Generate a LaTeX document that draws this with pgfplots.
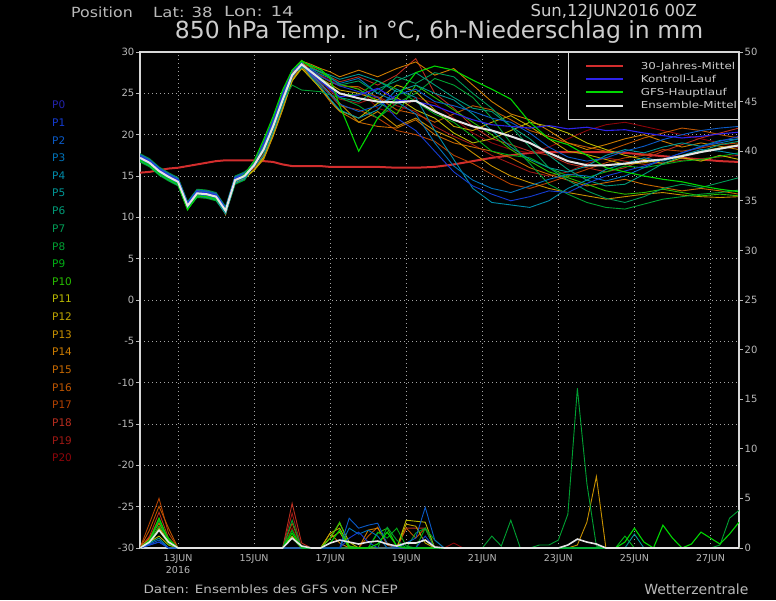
\documentclass[border=0pt]{standalone}
\usepackage{fontspec}
\setmainfont{DejaVu Sans}
\usepackage{graphicx}
\usepackage{pgfplots}
\usepackage{pgfplotstable}
\pgfplotsset{compat=1.18}

\definecolor{txt}{RGB}{205,205,205}
\definecolor{lbl}{RGB}{185,185,185}
\definecolor{frame}{RGB}{215,215,215}
\definecolor{gridc}{RGB}{165,165,165}
\definecolor{clim}{RGB}{210,45,45}
\definecolor{ctrl}{RGB}{45,35,235}
\definecolor{gfs}{RGB}{0,215,0}
\definecolor{ensm}{RGB}{228,228,228}
\definecolor{p0}{RGB}{35,35,175}
\definecolor{p1}{RGB}{20,60,210}
\definecolor{p2}{RGB}{10,90,200}
\definecolor{p3}{RGB}{0,115,185}
\definecolor{p4}{RGB}{0,140,170}
\definecolor{p5}{RGB}{0,150,150}
\definecolor{p6}{RGB}{0,155,120}
\definecolor{p7}{RGB}{0,155,85}
\definecolor{p8}{RGB}{0,160,50}
\definecolor{p9}{RGB}{0,175,20}
\definecolor{p10}{RGB}{40,190,0}
\definecolor{p11}{RGB}{185,185,0}
\definecolor{p12}{RGB}{190,165,0}
\definecolor{p13}{RGB}{200,145,0}
\definecolor{p14}{RGB}{205,125,0}
\definecolor{p15}{RGB}{200,105,0}
\definecolor{p16}{RGB}{190,85,0}
\definecolor{p17}{RGB}{180,65,0}
\definecolor{p18}{RGB}{185,45,30}
\definecolor{p19}{RGB}{160,25,20}
\definecolor{p20}{RGB}{140,5,10}

\newcommand{\wx}[2][1.25]{\scalebox{#1}[1]{#2}}

% 850 hPa temperature, hours after 12JUN2016 00Z
\pgfplotstableread{
h clim mean p0 gfs p1 p2 p3 p4 p5 p6 p7 p8 p9 p10 p11 p12 p13 p14 p15 p16 p17 p18 p19 p20
0 15.4 17.2 17.4 16.9 17.2 17.6 17.0 17.5 16.8 17.3 17.1 17.7 16.7 17.4 16.9 17.5 17.2 17.6 17.0 17.3 16.8 17.5 17.1 17.4
6 15.5 16.6 16.8 16.3 16.6 17.0 16.4 16.9 16.2 16.7 16.5 17.1 16.1 16.8 16.3 16.9 16.6 17.0 16.4 16.7 16.2 16.9 16.5 16.8
12 15.7 15.6 15.8 15.3 15.6 16.0 15.4 15.9 15.2 15.7 15.5 16.1 15.1 15.8 15.3 15.9 15.6 16.0 15.4 15.7 15.2 15.9 15.5 15.8
18 15.9 14.9 15.1 14.6 14.9 15.3 14.7 15.2 14.5 15.0 14.8 15.4 14.4 15.1 14.6 15.2 14.9 15.3 14.7 15.0 14.5 15.2 14.8 15.1
24 16.0 14.3 14.5 14.0 14.3 14.7 14.1 14.6 13.9 14.4 14.2 14.8 13.8 14.5 14.0 14.6 14.3 14.7 14.1 14.4 13.9 14.6 14.2 14.5
30 16.2 11.4 11.6 10.9 11.4 11.8 11.2 11.7 11.0 11.5 11.3 11.9 11.0 11.2 11.1 11.7 11.4 11.8 11.2 11.5 11.0 11.7 11.3 11.6
36 16.4 12.9 13.1 12.6 12.9 13.3 12.7 13.2 12.5 13.0 12.8 13.4 12.4 13.1 12.6 13.2 12.9 13.3 12.7 13.0 12.5 13.2 12.8 13.1
42 16.6 12.8 13.0 12.5 12.8 13.2 12.6 13.1 12.4 12.9 12.7 13.3 12.3 13.0 12.5 13.1 12.8 13.2 12.6 12.9 12.4 13.1 12.7 13.0
48 16.8 12.5 12.7 12.2 12.5 12.9 12.3 12.8 12.1 12.6 12.4 13.0 12.0 12.7 12.2 12.8 12.5 12.9 12.3 12.6 12.1 12.8 12.4 12.7
54 16.9 10.8 11.0 11.0 10.8 11.2 10.6 11.1 10.4 10.9 10.7 11.3 10.5 11.0 10.5 11.1 10.8 10.3 10.6 10.9 10.4 11.1 10.7 11.0
60 16.9 14.5 14.7 14.4 14.5 14.9 14.3 14.8 14.1 14.6 14.4 15.0 14.0 14.7 14.2 14.8 14.5 14.9 14.3 14.6 14.1 14.8 14.4 14.7
66 16.9 15.0 15.2 15.2 15.0 15.4 14.8 15.3 14.6 15.1 14.9 15.5 14.5 15.2 14.7 15.3 15.0 15.4 14.8 15.1 14.6 15.3 14.9 15.2
72 16.9 16.3 16.8 16.8 16.3 16.5 16.3 16.1 16.3 16.3 16.7 16.4 16.4 16.8 15.7 16.7 15.7 16.5 15.7 16.6 15.8 15.9 16.6 16.2
78 16.8 18.2 18.9 19.4 18.2 18.1 18.3 17.5 18.6 18.0 19.1 17.9 18.9 19.0 17.3 18.7 17.0 18.2 17.1 18.7 17.6 17.1 18.8 17.7
84 16.7 21.0 21.7 22.2 21.0 20.9 21.1 20.3 21.4 20.8 21.9 20.7 21.7 21.8 20.1 21.5 19.8 21.0 19.9 21.5 20.4 19.9 21.6 20.5
90 16.4 24.2 24.9 25.4 24.2 24.1 24.3 23.5 24.6 24.0 25.1 23.9 24.9 25.0 23.3 24.7 23.0 24.2 23.1 24.7 23.6 23.1 24.8 23.7
96 16.2 27.2 27.7 27.8 27.2 27.3 27.2 26.9 27.3 27.1 27.7 26.0 27.4 27.8 26.5 27.6 26.5 27.4 26.5 27.5 26.7 26.7 27.5 27.0
102 16.2 28.5 28.6 28.9 28.4 28.7 28.3 28.6 28.1 28.5 28.8 25.4 28.2 29.0 28.0 28.8 28.2 28.9 28.3 28.5 28.1 28.6 28.4 28.7
108 16.2 27.6 27.4 28.3 27.8 27.2 27.9 27.0 28.0 27.5 28.4 25.3 27.7 28.1 26.8 27.6 27.3 28.5 26.9 27.7 27.1 28.2 27.5 27.9
114 16.2 26.7 26.4 27.9 27.0 26.1 27.3 25.8 27.6 26.5 27.8 25.2 26.9 27.5 25.6 26.8 26.2 28.0 25.5 27.1 26.0 27.6 26.6 27.2
120 16.1 25.8 25.5 26.8 26.5 24.9 26.8 24.3 27.2 25.6 27.0 24.8 25.8 26.9 24.2 26.1 25.0 27.6 24.0 26.4 24.8 27.0 25.3 26.6
126 16.1 25.0 24.6 23.5 25.9 23.7 26.2 23.0 26.7 24.5 26.0 24.5 24.9 26.1 22.9 25.4 23.8 27.0 22.8 25.9 23.5 26.4 24.3 26.0
138 16.1 24.4 24.8 18.0 25.2 22.8 26.8 22.0 27.3 24.0 26.5 23.5 24.8 25.5 22.0 25.0 21.5 27.8 21.5 25.8 23.0 27.0 23.8 25.6
150 16.1 24.0 25.6 22.0 24.5 23.5 25.0 23.0 26.5 25.5 25.0 22.0 26.5 24.0 23.8 24.2 22.8 27.0 21.0 24.5 22.0 26.0 24.6 23.2
162 16.0 23.9 24.2 24.5 22.0 24.8 24.0 25.5 25.2 26.5 27.0 23.8 25.5 22.5 24.5 26.0 21.0 28.0 20.8 23.0 20.5 27.2 23.5 22.5
174 16.0 24.1 24.0 27.5 20.5 25.5 22.5 24.5 26.0 27.5 26.2 25.0 24.0 26.0 23.0 25.2 22.0 28.8 21.8 22.5 20.0 29.2 22.8 24.5
186 16.1 22.8 23.5 28.3 18.0 24.0 19.0 20.5 25.0 26.0 27.5 26.8 22.5 24.5 22.0 23.0 20.5 27.2 20.0 21.5 19.2 25.0 21.0 23.8
198 16.4 21.8 22.6 27.8 15.5 23.5 16.2 17.0 24.2 24.5 27.0 26.0 21.5 23.0 20.2 21.0 19.5 28.0 19.0 22.5 17.5 23.2 19.8 22.0
210 16.8 21.0 21.8 26.6 13.8 22.8 14.5 13.5 22.5 23.2 25.0 24.5 19.8 21.5 19.0 20.5 17.8 26.0 18.5 23.5 16.5 21.0 18.8 20.2
222 17.2 20.5 21.2 25.5 12.8 22.0 13.5 11.8 20.5 22.8 23.2 22.0 18.0 20.0 19.5 21.5 16.2 24.0 18.0 23.0 15.2 19.5 17.5 19.0
234 17.5 19.8 21.0 24.3 12.0 21.5 13.0 11.5 18.5 21.0 21.0 19.0 17.5 18.2 20.5 22.3 15.0 22.5 17.2 21.8 14.0 18.8 16.5 18.2
246 17.8 19.0 20.8 21.5 12.5 20.2 13.8 11.2 17.0 19.5 18.5 16.5 17.2 16.8 21.5 21.0 14.2 21.8 16.0 20.5 13.5 18.0 15.5 17.8
258 17.9 17.8 21.1 19.5 13.2 18.5 14.6 12.0 16.0 17.5 16.0 14.0 16.0 15.5 21.0 19.5 13.5 20.5 15.2 19.8 14.2 17.5 15.0 18.5
270 17.9 16.8 20.7 18.8 13.0 17.3 15.2 13.5 15.5 15.8 14.5 12.8 15.0 14.8 20.2 18.0 13.0 19.0 14.5 19.0 15.0 16.5 15.5 19.5
282 17.9 16.3 20.9 17.5 14.1 16.8 15.0 14.5 16.2 14.5 13.2 11.8 14.8 14.0 19.0 17.6 12.6 18.2 13.8 18.5 15.8 16.0 16.5 20.5
294 17.9 16.3 20.5 16.0 15.0 17.2 14.4 15.8 17.5 13.8 12.3 11.2 15.5 13.2 18.2 17.0 12.2 18.8 14.2 18.0 16.6 15.5 17.2 21.2
306 17.8 16.5 20.6 15.5 15.6 18.0 15.0 16.5 18.2 14.0 11.8 11.0 16.2 12.8 17.5 16.4 12.5 19.5 14.6 18.8 17.2 16.0 16.8 21.5
318 17.6 16.8 20.2 15.0 16.2 18.6 16.0 17.2 17.8 15.2 12.5 11.6 16.0 13.0 17.0 16.6 12.8 20.0 14.0 19.6 17.5 17.0 16.4 21.0
330 17.4 17.0 19.9 14.6 17.0 19.4 17.0 16.8 18.5 16.5 13.5 12.2 16.4 13.4 16.5 17.0 13.0 19.2 13.6 20.2 18.2 18.0 16.6 20.5
342 17.2 17.4 19.6 14.3 17.8 20.0 17.8 17.5 19.0 17.4 14.0 12.5 16.8 13.0 17.2 17.5 12.7 18.5 13.2 20.8 18.0 18.8 16.9 20.0
354 17.0 17.9 19.8 13.8 18.5 20.5 18.6 18.2 18.6 18.0 13.6 12.8 17.0 12.6 16.8 18.0 12.5 19.0 13.5 20.5 18.4 19.6 17.1 19.5
366 16.8 18.3 20.1 13.4 19.2 20.8 19.0 18.0 19.3 18.8 14.2 13.0 17.4 12.8 17.5 18.4 12.4 18.6 13.2 20.0 18.8 20.2 17.3 19.0
378 16.7 18.7 20.3 13.1 19.8 21.0 19.5 17.6 19.5 19.2 14.8 13.3 17.8 12.6 17.0 18.8 12.5 18.2 12.8 19.6 19.0 20.8 17.5 18.4
}\temps

\pgfplotsset{
  chartbox/.style={
    at={(140pt,52pt)}, anchor=south west, scale only axis,
    width=599pt, height=496pt, xmin=0, xmax=378,
    axis line style={draw=frame, line width=1.4pt},
    tick align=outside, major tick length=4pt,
    tick style={draw=lbl, line width=0.8pt},
    ticklabel style={text=lbl, font=\fontsize{10}{10}\selectfont},
  },
  mem/.style={line width=0.9pt},
}

\begin{document}
\begin{tikzpicture}[x=1pt,y=1pt]
\fill[black] (0,0) rectangle (776,600);

\begin{axis}[chartbox,
  ymin=-30, ymax=30,
  ytick={-30,-25,...,30},
  yticklabels={-30,-25,-20,-15,-10,-5,0,5,10,15,20,25,30},
  ytick pos=left, xtick pos=bottom,
  y tick label style={inner xsep=1.5pt},
  xtick={24,72,120,168,216,264,312,360},
  xticklabels={{13JUN\\2016},15JUN,17JUN,19JUN,21JUN,23JUN,25JUN,27JUN},
  x tick label style={align=center, font=\fontsize{9.5}{12}\selectfont, yshift=1pt},
  x tick style={draw=none},
  grid=major,
  grid style={draw=gridc, line width=0.8pt, dash pattern=on 1pt off 3pt},
  legend cell align=left,
  legend image code/.code={\path[draw=none] (0pt,-1pt) rectangle (71pt,1pt);
    \draw[#1, line width=2pt] (18pt,0pt) -- (55pt,0pt);},
  legend style={at={(1,1)}, anchor=north east, fill=black, draw=frame,
    line width=1.2pt, inner xsep=0pt, inner ysep=8pt, row sep=1.3pt,
    font=\fontsize{9.5}{10}\selectfont, text=txt,
    nodes={inner ysep=1.5pt, inner xsep=1.5pt}},
]
\addplot[clim, line width=2pt] table[x=h, y=clim] {\temps};
\addlegendentry{\wx{30-Jahres-Mittel}}
\pgfplotsinvokeforeach{p20,p19,p18,p17,p16,p15,p14,p13,p12,p11,p10,p9,p8,p7,p6,p5,p4,p3,p2,p1}{
  \addplot[mem, #1, forget plot] table[x=h, y=#1] {\temps};
}
\addplot[ctrl, line width=1.1pt] table[x=h, y=p0] {\temps};
\addlegendentry{\wx{Kontroll-Lauf}}
\addplot[gfs, line width=1.1pt] table[x=h, y=gfs] {\temps};
\addlegendentry{\wx{GFS-Hauptlauf}}
\addplot[ensm, line width=2pt] table[x=h, y=mean] {\temps};
\addlegendentry{\wx{Ensemble-Mittel}}
\end{axis}

% 6h precipitation in mm, right axis
\begin{axis}[chartbox,
  ymin=0, ymax=50,
  axis x line=none, axis y line*=right,
  ytick={0,5,...,50},
  yticklabels={0,5,10,15,20,25,30,35,40,45,50},
  y tick label style={inner xsep=1.5pt},
]
\addplot[mem, p20] coordinates {(0,0)(6,0.8)(12,2.6)(18,0.8)(24,0)(90,0)(96,2.0)(102,0)(192,0)(198,0.5)(204,0)(378,0)};
\addplot[mem, p19] coordinates {(0,0)(6,1.0)(12,3.0)(18,0.6)(24,0)(90,0)(96,3.5)(102,0)(378,0)};
\addplot[mem, p18] coordinates {(0,0)(6,1.2)(12,3.6)(18,1.0)(24,0)(90,0)(96,4.5)(102,0.5)(108,0)(162,0)(168,2.0)(174,2.0)(180,2.0)(186,0)(378,0)};
\addplot[mem, p17] coordinates {(0,0)(6,2.5)(12,5.0)(18,1.5)(24,0)(90,0)(96,2.5)(102,0)(378,0)};
\addplot[mem, p16] coordinates {(0,0)(6,1.8)(12,4.2)(18,2.0)(24,0)(138,0)(144,1.2)(150,2.1)(156,0.3)(162,0)(168,2.0)(174,1.0)(180,2.0)(186,0)(378,0)};
\addplot[mem, p14] coordinates {(0,0)(6,1.0)(12,2.5)(18,0.8)(24,0)(114,0)(120,1.5)(126,0.5)(132,0)(138,0)(144,1.8)(150,2.0)(156,0.5)(162,0)(378,0)};
\addplot[mem, p13] coordinates {(0,0)(6,0.6)(12,2.2)(18,0.6)(24,0)(114,0)(120,1.0)(126,1.6)(132,0)(270,0)(276,0.3)(282,2.6)(288,7.2)(294,0)(378,0)};
\addplot[mem, p12] coordinates {(0,0)(6,0.5)(12,2.0)(18,0.5)(24,0)(114,0)(120,1.5)(126,2.0)(132,0.2)(138,0)(162,0)(168,2.4)(174,2.2)(180,0.5)(186,0)(378,0)};
\addplot[mem, p11] coordinates {(0,0)(12,1.2)(18,0.3)(24,0)(90,0)(96,1.2)(102,0)(114,0)(120,1.0)(126,2.5)(132,0.6)(138,0)(162,0)(168,2.8)(174,2.7)(180,2.6)(186,0)(378,0)};
\addplot[mem, p10] coordinates {(0,0)(6,0.4)(12,1.8)(18,0.4)(24,0)(90,0)(96,1.0)(102,0)(114,0)(120,1.0)(126,2.6)(132,0.2)(138,0)(144,0)(150,1.5)(156,2.0)(162,0.2)(168,0)(378,0)};
\addplot[mem, p9] coordinates {(0,0)(6,0.5)(12,2.2)(18,1.0)(24,0)(90,0)(96,1.8)(102,0)(144,0)(150,1.6)(156,1.0)(162,2.0)(168,0.2)(174,0)(180,2.0)(186,0.8)(192,0)(300,0)(306,1.2)(312,0)(378,0)};
\addplot[mem, p8] coordinates {(0,0)(6,0.5)(12,2.8)(18,0.5)(24,0)(90,0)(96,2.8)(102,0)(150,0)(156,2.1)(162,0.8)(168,0)(174,1.5)(180,2.0)(186,0)(216,0)(222,1.2)(228,0.2)(234,2.8)(240,0)(246,0)(252,0.3)(258,0.3)(264,0.8)(270,3.4)(276,16.1)(282,6.5)(288,0.2)(294,0)(360,0)(366,0.3)(372,3.0)(378,3.8)};
\addplot[mem, p5] coordinates {(0,0)(12,1.0)(18,0)(306,0)(312,1.4)(318,0)(378,0)};
\addplot[mem, p3] coordinates {(0,0)(12,0.6)(18,0)(126,0)(132,2.0)(138,1.4)(144,1.8)(150,1.2)(156,0)(378,0)};
\addplot[mem, p2] coordinates {(0,0)(12,0.8)(18,0)(126,0)(132,3.0)(138,2.0)(144,2.3)(150,2.5)(156,0.4)(162,0)(168,0.5)(174,1.0)(180,4.1)(186,0.8)(192,0)(378,0)};
\addplot[mem, p1] coordinates {(0,0)(12,0.6)(18,0)(126,0)(132,1.0)(138,1.6)(144,0.6)(150,0)(174,0)(180,1.2)(186,0)(378,0)};
\addplot[gfs, line width=1.1pt] coordinates {(0,0)(6,0.8)(12,3.0)(18,0.8)(24,0)(90,0)(96,1.5)(102,0)(114,0)(120,0.5)(126,1.8)(132,0)(144,0)(150,0.4)(156,1.6)(162,0.2)(168,0)(300,0)(306,0.6)(312,2.0)(318,0.6)(324,0)(330,2.3)(336,1.0)(342,0)(348,0.4)(354,1.6)(360,1.0)(366,0.4)(372,1.4)(378,2.6)};
\addplot[ensm, line width=1.6pt] coordinates {(0,0)(6,0.6)(12,1.8)(18,0.6)(24,0)(90,0)(96,1.0)(102,0.2)(108,0)(114,0)(120,0.5)(126,0.8)(132,0.6)(138,0.4)(144,0.6)(150,0.7)(156,0.4)(162,0.2)(168,0.5)(174,0.5)(180,0.8)(186,0.1)(192,0)(264,0)(270,0.3)(276,0.9)(282,0.6)(288,0.4)(294,0)(378,0)};
\end{axis}

% header and footer texts
\node[anchor=west, text=lbl, font=\fontsize{14}{14}\selectfont, inner xsep=0pt] at (71,588) {\wx[1.13]{Position}};
\node[anchor=west, text=lbl, font=\fontsize{14}{14}\selectfont, inner xsep=0pt] at (153,588) {\wx[1.18]{Lat: 38}};
\node[anchor=west, text=lbl, font=\fontsize{14}{14}\selectfont, inner xsep=0pt] at (224,588) {\wx[1.3]{Lon: 14}};
\node[anchor=west, text=txt, font=\fontsize{16.5}{16.5}\selectfont] at (527,588) {Sun,12JUN2016 00Z};
\node[text=txt, font=\fontsize{23.5}{23.5}\selectfont] at (439,568) {850 hPa Temp. in °C, 6h-Niederschlag in mm};
\node[anchor=west, text=lbl, font=\fontsize{11.5}{11.5}\selectfont] at (140,11) {\wx[1.18]{Daten: Ensembles des GFS von NCEP}};
\node[anchor=east, text=lbl, font=\fontsize{14}{14}\selectfont] at (752,11) {Wetterzentrale};

% member labels
\foreach \i in {0,...,20} {
  \node[anchor=west, text=p\i, font=\fontsize{10.5}{10.5}\selectfont, inner sep=0pt] at (52,{495-17.65*\i}) {P\i};
}
\end{tikzpicture}
\end{document}
